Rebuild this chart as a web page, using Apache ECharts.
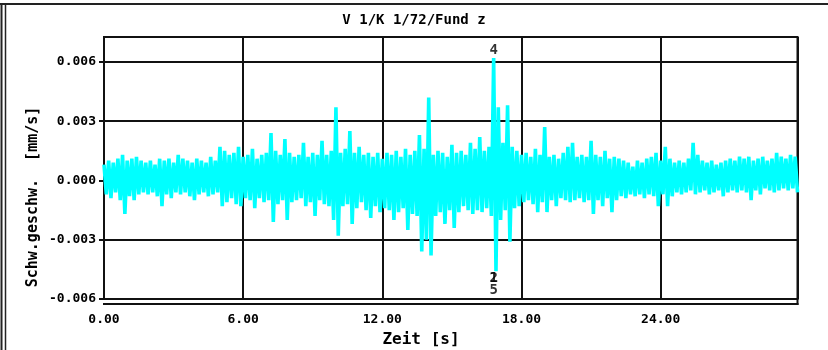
<!DOCTYPE html>
<html>
<head>
<meta charset="utf-8">
<script src="https://cdn.jsdelivr.net/npm/echarts@6/dist/echarts.min.js"></script>
<style>
    html, body { margin: 0; padding: 0; background: #fff; }
    #chart { width: 828px; height: 350px; }
</style>
</head>
<body>
<div id="chart"></div>
<script>
const FONT = 'DejaVu Sans Mono';

// envelope of the vibration trace, one sample every timeStep seconds
const timeStep = 0.2;
// upper / lower edge of the trace, in 1e-3 mm/s
const upper = [
    0.8, 1.0, 0.9, 1.1, 1.3,  1.0, 1.1, 1.2, 1.0, 0.9,
    1.0, 0.8, 1.1, 1.0, 1.1,  0.9, 1.3, 1.1, 1.0, 0.9,
    1.1, 1.0, 0.9, 1.2, 1.0,  1.7, 1.5, 1.3, 1.4, 1.7,
    1.2, 1.3, 1.6, 1.1, 1.3,  1.4, 2.4, 1.5, 1.3, 2.1,
    1.4, 1.2, 1.3, 1.9, 1.2,  1.4, 1.3, 2.0, 1.3, 1.5,
    3.7, 1.4, 1.6, 2.5, 1.4,  1.7, 1.3, 1.4, 1.2, 1.4,
    1.1, 1.4, 1.3, 1.5, 1.2,  1.6, 1.3, 1.5, 2.3, 1.6,
    4.2, 1.3, 1.5, 1.4, 1.2,  1.8, 1.4, 1.5, 1.3, 1.9,
    1.6, 2.2, 1.5, 1.7, 6.2,  3.7, 1.9, 3.8, 1.7, 1.5,
    1.3, 1.4, 1.2, 1.6, 1.3,  2.7, 1.2, 1.3, 1.1, 1.4,
    1.7, 1.9, 1.2, 1.3, 1.2,  2.0, 1.3, 1.2, 1.5, 1.1,
    1.2, 1.1, 1.0, 0.9, 0.7,  1.0, 0.9, 1.1, 1.2, 1.4,
    1.0, 1.7, 1.1, 0.9, 1.0,  0.9, 1.1, 1.9, 1.3, 1.0,
    0.9, 1.0, 0.8, 0.9, 1.0,  1.1, 1.0, 1.2, 1.1, 1.2,
    1.0, 1.1, 1.2, 1.0, 1.1,  1.4, 1.2, 1.1, 1.3, 1.2
];
const lower = [
    -0.7, -0.9, -0.6, -1.0, -1.7,  -0.8, -1.0, -0.7, -0.6, -0.7,
    -0.6, -0.8, -1.3, -0.7, -0.9,  -0.6, -0.7, -0.6, -0.8, -1.0,
    -0.7, -0.6, -0.8, -0.7, -0.6,  -1.3, -1.1, -0.9, -1.2, -1.3,
    -0.9, -1.0, -1.4, -0.9, -1.1,  -1.0, -2.1, -1.2, -1.0, -2.0,
    -1.1, -1.0, -0.9, -1.3, -1.1,  -1.8, -1.0, -1.2, -1.3, -2.0,
    -2.8, -1.3, -1.2, -2.2, -1.4,  -1.1, -1.5, -1.9, -1.3, -1.6,
    -1.4, -1.5, -2.0, -1.6, -1.4,  -2.5, -1.7, -1.8, -3.6, -3.0,
    -3.8, -1.8, -1.6, -2.2, -1.5,  -2.4, -1.6, -1.3, -1.5, -1.7,
    -1.5, -1.6, -1.4, -1.8, -4.6,  -2.0, -1.5, -3.1, -1.4, -1.3,
    -1.1, -1.0, -1.2, -1.6, -1.1,  -1.6, -1.0, -1.3, -0.9, -1.0,
    -1.1, -1.0, -0.9, -1.1, -1.0,  -1.7, -1.0, -1.3, -0.9, -1.6,
    -1.0, -0.8, -0.9, -0.7, -0.8,  -0.7, -0.9, -0.7, -0.8, -1.3,
    -0.7, -1.3, -0.8, -0.6, -0.7,  -0.6, -0.5, -0.7, -0.6, -0.5,
    -0.7, -0.6, -0.5, -0.8, -0.6,  -0.5, -0.6, -0.5, -0.6, -1.0,
    -0.5, -0.7, -0.4, -0.5, -0.6,  -0.5, -0.4, -0.5, -0.4, -0.6
];

// peak markers: sample index, which edge, text
const markerIndex = [84, 84, 84, 84];
const markerEdge = ['upper', 'lower', 'lower', 'lower'];
const markerText = ['4', '2', '1', '5'];

const xMin = 0;
const xMax = 29.9;
const xStep = 6;
const yMin = -0.006;
const yMax = 0.00726;
const yStep = 0.003;

// zig-zag between upper and lower edge, like the dense recording
const trace = [];
upper.forEach((u, i) => {
    const t = i * timeStep;
    trace.push([t, u / 1000]);
    trace.push([t + timeStep / 2, lower[i] / 1000]);
});

const markers = markerIndex.map((idx, k) => {
    const isTop = markerEdge[k] === 'upper';
    const v = (isTop ? upper[idx] : lower[idx]) / 1000;
    return {
        value: [idx * timeStep, v],
        label: {
            show: true,
            formatter: markerText[k],
            position: isTop ? 'top' : 'bottom',
            distance: markerText[k] === '5' ? 12 : 0,
            fontFamily: FONT,
            fontWeight: 'bold',
            fontSize: 14,
            color: '#000'
        }
    };
});

const chart = echarts.init(document.getElementById('chart'));

const option = {
    animation: false,
    backgroundColor: '#fff',
    title: {
        text: 'V 1/K 1/72/Fund z',
        left: 'center',
        top: 8,
        textStyle: {
            fontFamily: FONT,
            fontWeight: 'bold',
            fontSize: 14,
            color: '#000'
        }
    },
    grid: {
        left: 104,
        right: 30.5,
        top: 37,
        bottom: 51,
        show: true,
        borderColor: '#111',
        borderWidth: 2
    },
    xAxis: {
        type: 'value',
        min: xMin,
        max: xMax,
        interval: xStep,
        axisLine: { show: true, lineStyle: { color: '#111', width: 2 } },
        axisTick: { show: true, inside: false, length: 5, lineStyle: { color: '#111', width: 2 } },
        splitLine: { show: true, lineStyle: { color: '#111', width: 2 } },
        axisLabel: {
            showMaxLabel: false,
            margin: 14,
            fontFamily: FONT,
            fontWeight: 'bold',
            fontSize: 13,
            color: '#000',
            formatter: v => v.toFixed(2)
        }
    },
    yAxis: {
        type: 'value',
        min: yMin,
        max: yMax,
        interval: yStep,
        axisLine: { show: true, lineStyle: { color: '#111', width: 2 } },
        axisTick: { show: true, length: 5, lineStyle: { color: '#111', width: 2 } },
        splitLine: { show: true, lineStyle: { color: '#111', width: 2 } },
        axisLabel: {
            showMaxLabel: false,
            margin: 8,
            fontFamily: FONT,
            fontWeight: 'bold',
            fontSize: 13,
            color: '#000',
            formatter: v => v.toFixed(3)
        }
    },
    graphic: [
        // outer frame of the plot page
        { type: 'line', shape: { x1: 0, y1: 4, x2: 828, y2: 4 }, style: { stroke: '#222', lineWidth: 2 } },
        { type: 'line', shape: { x1: 1.5, y1: 4, x2: 1.5, y2: 350 }, style: { stroke: '#222', lineWidth: 2 } },
        { type: 'line', shape: { x1: 5.5, y1: 4, x2: 5.5, y2: 350 }, style: { stroke: '#222', lineWidth: 1.5 } },
        // double bottom edge of the plot
        { type: 'line', shape: { x1: 103, y1: 304, x2: 798.5, y2: 304 }, style: { stroke: '#111', lineWidth: 2 } },
        { type: 'line', shape: { x1: 797.5, y1: 298, x2: 797.5, y2: 305 }, style: { stroke: '#111', lineWidth: 2 } },
        {
            type: 'text',
            x: 33,
            y: 197,
            rotation: Math.PI / 2,
            style: {
                text: 'Schw.geschw.  [mm/s]',
                font: 'bold 15px "' + FONT + '"',
                fill: '#000',
                textAlign: 'center',
                textVerticalAlign: 'middle',
                align: 'center',
                verticalAlign: 'middle'
            }
        },
        {
            type: 'text',
            x: 421,
            y: 340,
            style: {
                text: 'Zeit [s]',
                font: 'bold 16px "' + FONT + '"',
                fill: '#000',
                textAlign: 'center',
                textVerticalAlign: 'middle',
                align: 'center',
                verticalAlign: 'middle'
            }
        }
    ],
    series: [
        {
            name: 'Fund z',
            type: 'line',
            data: trace,
            showSymbol: false,
            symbol: 'none',
            sampling: null,
            lineStyle: { color: '#00ffff', width: 3.6, join: 'bevel' },
            z: 3
        },
        {
            name: 'marker',
            type: 'scatter',
            symbol: 'circle',
            symbolSize: 1,
            itemStyle: { color: 'rgba(0,0,0,0)' },
            data: markers,
            z: 4
        }
    ]
};

chart.setOption(option);
</script>
</body>
</html>
